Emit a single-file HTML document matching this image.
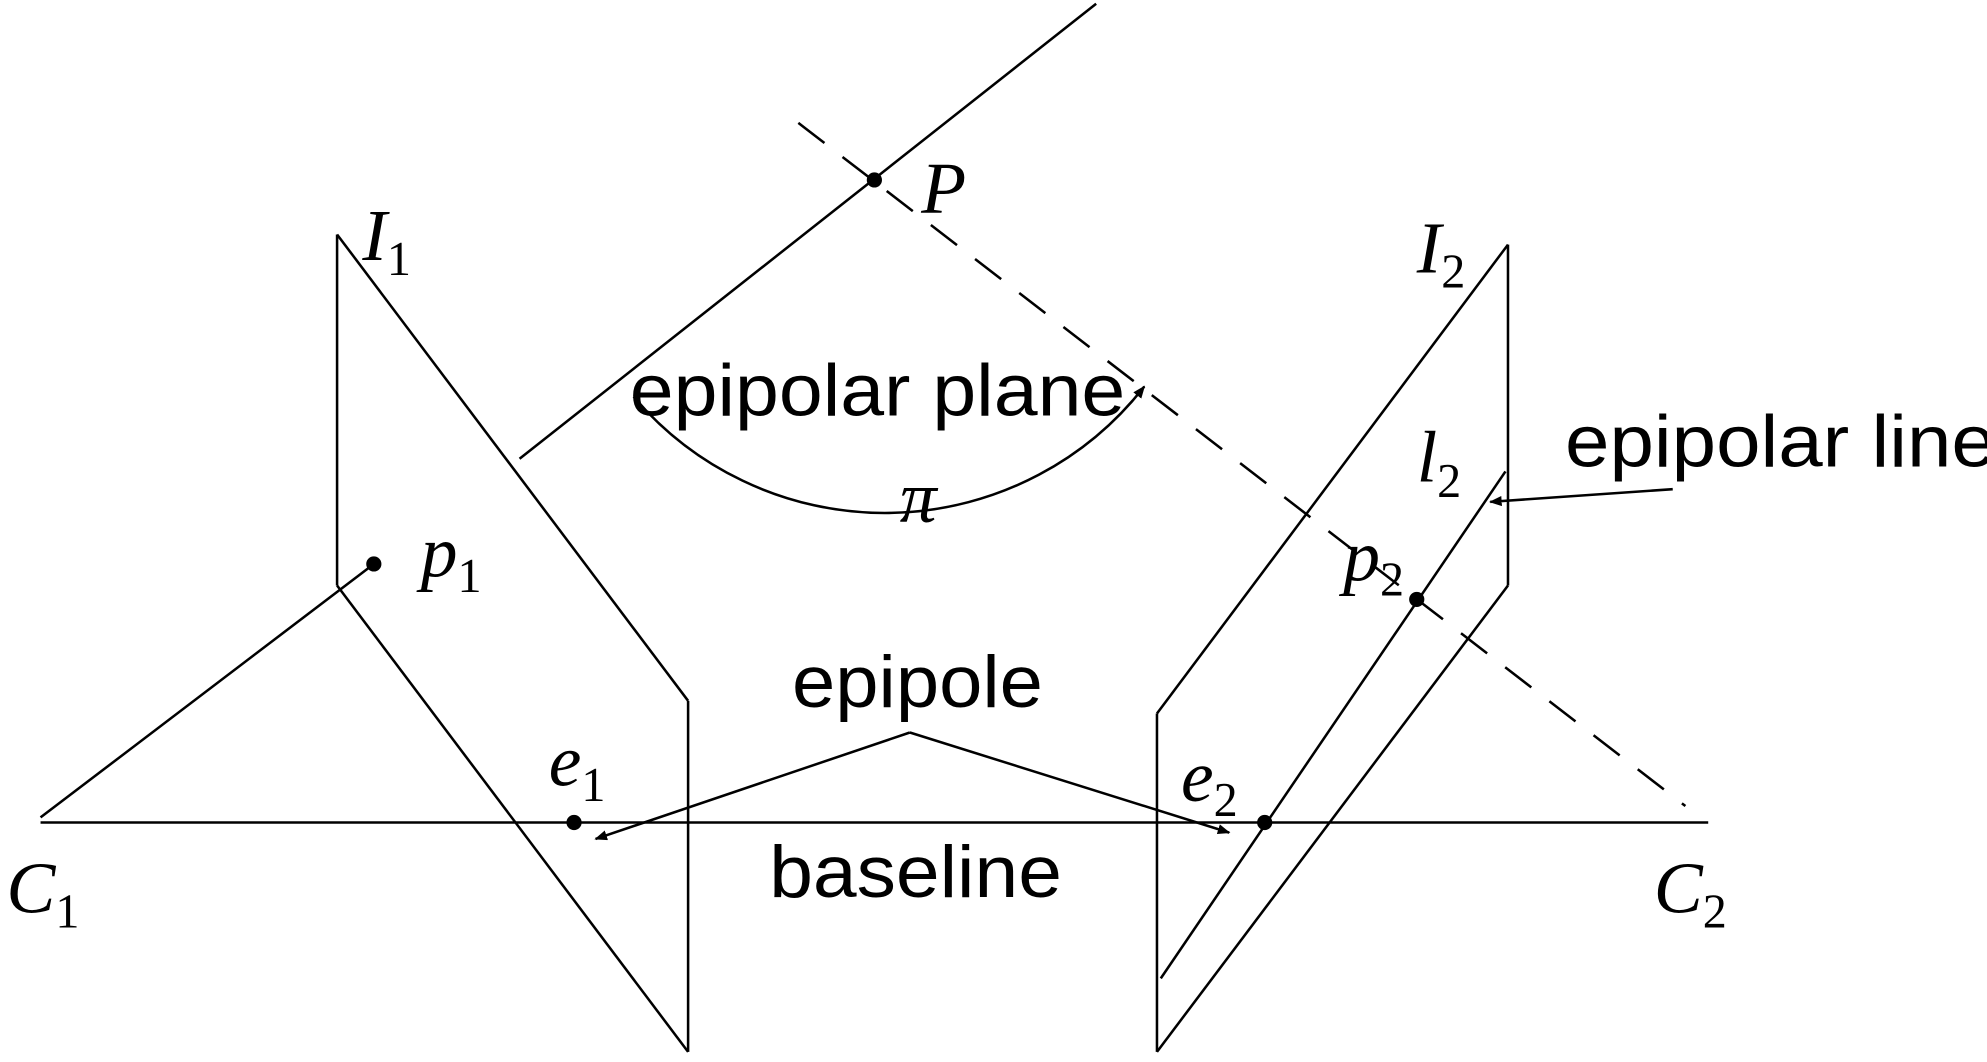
<!DOCTYPE html>
<html><head><meta charset="utf-8"><style>
html,body{margin:0;padding:0;background:#fff;width:1987px;height:1062px;overflow:hidden}
svg{display:block}
.s{font-family:"Liberation Sans",sans-serif;font-size:58px}
.m{font-family:"Liberation Serif",serif;font-style:italic;font-size:58px}
.sub{font-family:"Liberation Serif",serif;font-size:38px;font-style:normal}
</style></head><body>
<svg width="1987" height="1062" viewBox="0 0 1568 838" preserveAspectRatio="none">
<defs><marker id="ar" markerWidth="10" markerHeight="8" refX="9" refY="4" orient="auto" markerUnits="userSpaceOnUse"><path d="M0,0 L10,4 L0,8 z" fill="#000"/></marker></defs>
<g stroke="#000" stroke-width="2" fill="none">
<line x1="410" y1="362" x2="865" y2="3"/>
<line x1="630" y1="97" x2="1330" y2="636" stroke-dasharray="26,18"/>
<g>
<line x1="266" y1="185" x2="266" y2="462"/><line x1="266" y1="185" x2="543" y2="553"/>
<line x1="543" y1="553" x2="543" y2="830"/><line x1="266" y1="462" x2="543" y2="830"/></g>
<g>
<line x1="1190" y1="193" x2="1190" y2="462"/><line x1="1190" y1="193" x2="913" y2="563"/>
<line x1="913" y1="563" x2="913" y2="830"/><line x1="1190" y1="462" x2="913" y2="830"/></g>
<line x1="1188" y1="372" x2="916" y2="772"/>
<line x1="32" y1="645" x2="295" y2="445"/>
<line x1="32" y1="649" x2="1348" y2="649"/>
<line x1="718" y1="578" x2="470" y2="662" marker-end="url(#ar)"/>
<line x1="718" y1="578" x2="970" y2="657" marker-end="url(#ar)"/>
<line x1="1320" y1="386" x2="1176" y2="396" marker-end="url(#ar)"/>
<path d="M500,313 A260,260 0 0 0 903,305" marker-end="url(#ar)"/>
</g>
<g fill="#000">
<circle cx="690" cy="142" r="6"/>
<circle cx="295" cy="445" r="6"/>
<circle cx="453" cy="649" r="6"/>
<circle cx="998" cy="649" r="6"/>
<circle cx="1118" cy="473" r="6"/>
</g>
<text class="s" x="497" y="328" textLength="391" lengthAdjust="spacingAndGlyphs">epipolar plane</text>
<text class="s" x="625" y="558" textLength="198" lengthAdjust="spacingAndGlyphs">epipole</text>
<text class="s" x="607" y="708" textLength="231" lengthAdjust="spacingAndGlyphs">baseline</text>
<text class="s" x="1235" y="368" textLength="340" lengthAdjust="spacingAndGlyphs">epipolar line</text>
<text class="m" x="710" y="412">π</text>
<text class="m" x="286" y="205">I<tspan class="sub" dy="12">1</tspan></text>
<text class="m" x="727" y="168">P</text>
<text class="m" x="1118" y="215">I<tspan class="sub" dy="12">2</tspan></text>
<text class="m" x="1118" y="380">l<tspan class="sub" dy="12">2</tspan></text>
<text class="m" x="332" y="455">p<tspan class="sub" dy="12">1</tspan></text>
<text class="m" x="1060" y="458">p<tspan class="sub" dy="12">2</tspan></text>
<text class="m" x="433" y="620">e<tspan class="sub" dy="12">1</tspan></text>
<text class="m" x="932" y="632">e<tspan class="sub" dy="12">2</tspan></text>
<text class="m" x="5" y="720">C<tspan class="sub" dy="12">1</tspan></text>
<text class="m" x="1305" y="720">C<tspan class="sub" dy="12">2</tspan></text>
</svg>
</body></html>
